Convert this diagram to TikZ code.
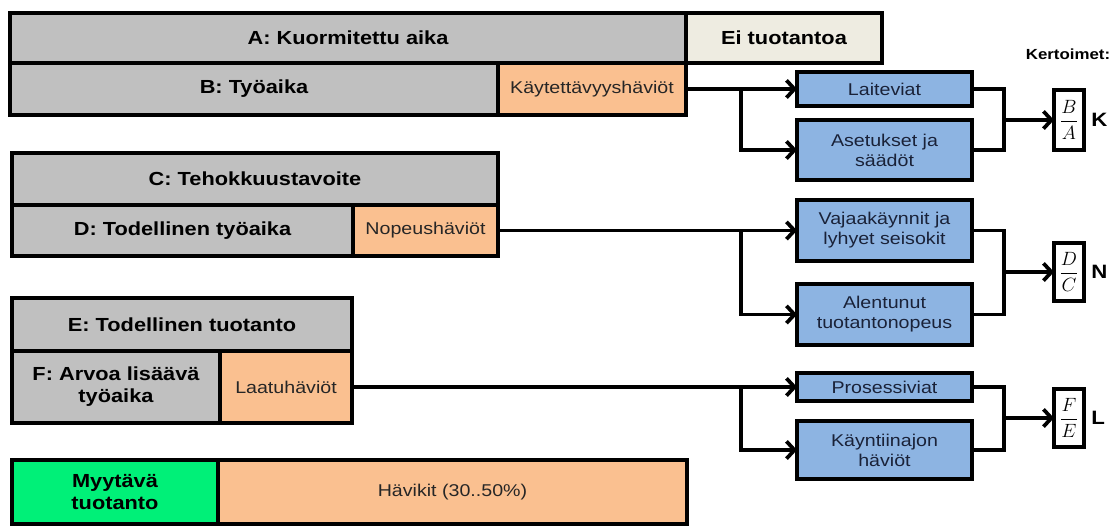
\documentclass[tikz,border=0pt]{standalone}
\usepackage{amsmath}
\usepackage{fontspec}
\setmainfont{Liberation Sans}[FakeStretch=1.15]
\usetikzlibrary{arrows.meta}
\definecolor{boxgrey}{HTML}{C0C0C0}
\definecolor{peach}{HTML}{FAC090}
\definecolor{eitu}{HTML}{EEECE1}
\definecolor{lossblue}{HTML}{8DB4E2}
\definecolor{sellgreen}{HTML}{00F078}
\definecolor{navytext}{HTML}{1A2238}
\newcommand\pxbox[7]{\node[#6, minimum width={(#4-#2)*0.75pt}, minimum height={(#5-#3)*0.75pt}] (#1) at ({(#2+#4)/2},{(#3+#5)/2}) {#7};}
\tikzset{
  base/.style={draw=black, line width=2.8pt, inner sep=0pt, outer sep=0pt, align=center},
  greybox/.style={base, fill=boxgrey, font=\fontsize{14.2}{16.5}\selectfont\bfseries},
  eibox/.style={base, fill=eitu, font=\fontsize{14.2}{16.5}\selectfont\bfseries},
  lossbox/.style={base, fill=peach, font=\fontsize{12.8}{15}\selectfont, text=black!85},
  bluebox/.style={base, fill=lossblue, font=\fontsize{12.8}{15}\selectfont, text=navytext},
  greenbox/.style={base, fill=sellgreen, font=\fontsize{14.2}{16.5}\selectfont\bfseries},
  fracbox/.style={draw=black, line width=2.6pt, fill=white, inner sep=0pt, outer sep=0pt, font=\fontsize{15}{18}\selectfont},
  conn/.style={line width=2.6pt, line join=miter},
  arr/.style={conn, -{Straight Barb[length=6pt,width=13pt,line width=2.8pt]}},
  letter/.style={font=\fontsize{14.5}{16}\selectfont\bfseries, anchor=west, inner sep=0pt},
}
\begin{document}
\begin{tikzpicture}[x=0.75pt,y=-0.75pt]
\useasboundingbox (0,0) rectangle (1120,526);
% left stacks
\pxbox{A}{10}{13}{686}{63}{greybox}{A: Kuormitettu aika}
\pxbox{Ei}{686}{13}{882}{63}{eibox}{Ei tuotantoa}
\pxbox{B}{10}{63}{498}{115}{greybox}{B: Työaika}
\pxbox{kayt}{498}{63}{686}{115}{lossbox}{Käytettävyyshäviöt}
\pxbox{C}{12}{153}{498}{205}{greybox}{C: Tehokkuustavoite}
\pxbox{D}{12}{205}{353}{256}{greybox}{D: Todellinen työaika}
\pxbox{nop}{353}{205}{498}{256}{lossbox}{Nopeushäviöt}
\pxbox{E}{12}{298}{352}{351}{greybox}{E: Todellinen tuotanto}
\pxbox{F}{12}{351}{220}{423}{greybox}{F: Arvoa lisäävä\\työaika}
\pxbox{laatu}{220}{351}{352}{423}{lossbox}{Laatuhäviöt}
\pxbox{myy}{12}{460}{218}{524}{greenbox}{Myytävä\\tuotanto}
\pxbox{hav}{218}{460}{687}{524}{lossbox}{Hävikit (30..50\%)}
% loss causes
\pxbox{lai}{797}{72}{972}{106}{bluebox}{Laiteviat}
\pxbox{ase}{797}{120}{972}{180}{bluebox}{Asetukset ja\\säädöt}
\pxbox{vaj}{797}{200}{972}{261}{bluebox}{Vajaakäynnit ja\\lyhyet seisokit}
\pxbox{ale}{797}{284}{972}{345}{bluebox}{Alentunut\\tuotantonopeus}
\pxbox{pro}{797}{373}{972}{401}{bluebox}{Prosessiviat}
\pxbox{kay}{797}{421}{972}{479}{bluebox}{Käyntiinajon\\häviöt}
% coefficient boxes
\pxbox{kf}{1054}{90}{1084}{150}{fracbox}{$\dfrac{B}{A}$}
\pxbox{nf}{1054}{243}{1084}{301}{fracbox}{$\dfrac{D}{C}$}
\pxbox{lf}{1054}{389}{1084}{447}{fracbox}{$\dfrac{F}{E}$}
\node[letter] (kl) at (1091,120) {K};
\node[letter] (nl) at (1091,272) {N};
\node[letter] (ll) at (1091,418) {L};
\node[font=\fontsize{11}{13}\selectfont\bfseries] (kert) at (1068,54) {Kertoimet:};
% branch / merge points
\coordinate (j) at (741,0);
\coordinate (m) at (1004,0);
% availability
\draw[arr] (kayt.east) -- (lai.west);
\draw[arr] (kayt.east -| j) |- (ase.west);
\draw[conn] (lai.east) -| (m |- ase.east) -- (ase.east);
\draw[arr] (m |- kf.west) -- (kf.west);
% speed
\draw[arr] (nop.east) -- (vaj.west);
\draw[arr] (nop.east -| j) |- (ale.west);
\draw[conn] (vaj.east) -| (m |- ale.east) -- (ale.east);
\draw[arr] (m |- nf.west) -- (nf.west);
% quality
\draw[arr] (laatu.east) -- (pro.west);
\draw[arr] (laatu.east -| j) |- (kay.west);
\draw[conn] (pro.east) -| (m |- kay.east) -- (kay.east);
\draw[arr] (m |- lf.west) -- (lf.west);
\end{tikzpicture}
\end{document}
